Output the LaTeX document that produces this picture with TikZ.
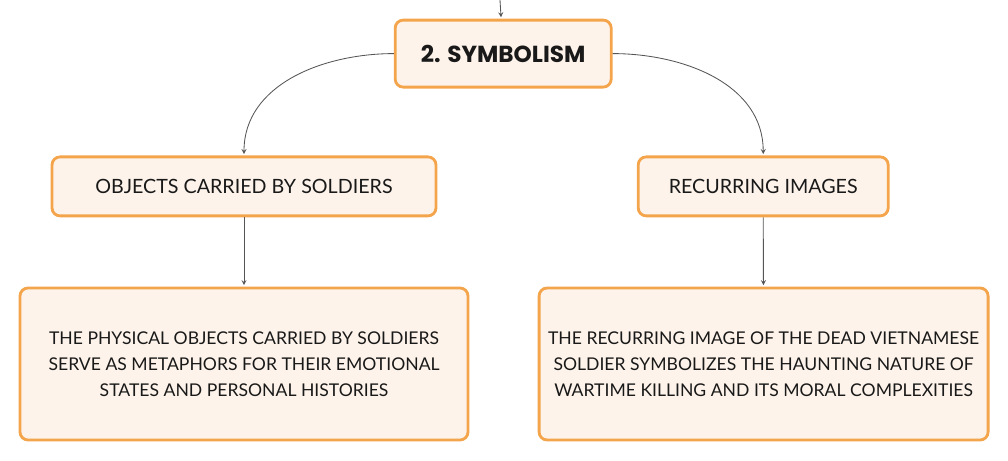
\documentclass[tikz,border=0pt]{standalone}
\usepackage{fontspec}
\setmainfont{Lato}
\newfontfamily\titlefont{Poppins}
\usetikzlibrary{positioning}
\definecolor{boxorange}{HTML}{F4A54C}
\definecolor{boxfill}{HTML}{FDF3EA}
\definecolor{linegray}{HTML}{555555}

\begin{document}
\begin{tikzpicture}[shorten >=1pt,->,>=stealth]
  \tikzstyle{box}=[rectangle, rounded corners=0.2cm, draw=boxorange, fill=boxfill,
line width=2pt, text=black!90, align=center, inner sep=0pt]
  \tikzstyle{link}=[draw=linegray, line width=0.6pt]
  \useasboundingbox (0,0) rectangle (25.2,-11.525);
  \node[box, minimum width=5.4cm, minimum height=1.675cm, font=\titlefont\bfseries\fontsize{16.5}{18}\selectfont] (S_0) at (12.58,-1.34) {2. SYMBOLISM};
  \node[box, minimum width=9.6cm, minimum height=1.475cm, font=\fontsize{14}{16}\selectfont] (S_1) at (6.1,-4.66) {OBJECTS CARRIED BY SOLDIERS};
  \node[box, minimum width=6.25cm, minimum height=1.475cm, font=\fontsize{14}{16}\selectfont] (S_2) at (19.08,-4.66) {RECURRING IMAGES};
  \node[box, minimum width=11.2cm, minimum height=3.8cm, font=\fontsize{12.5}{18.5}\selectfont] (D_1) at (6.1,-9.1) {THE PHYSICAL OBJECTS CARRIED BY SOLDIERS\\SERVE AS METAPHORS FOR THEIR EMOTIONAL\\STATES AND PERSONAL HISTORIES};
  \node[box, minimum width=11.225cm, minimum height=3.8cm, font=\fontsize{12.5}{18.5}\selectfont] (D_2) at (19.09,-9.1) {THE RECURRING IMAGE OF THE DEAD VIETNAMESE\\SOLDIER SYMBOLIZES THE HAUNTING NATURE OF\\WARTIME KILLING AND ITS MORAL COMPLEXITIES};
  \coordinate (in) at (12.5,0);

  \draw[link] (in) -- (S_0);
  \draw[link] (S_0.west) to[out=180,in=90] (S_1.north);
  \draw[link] (S_0.east) to[out=0,in=90] (S_2.north);
  \draw[link] (S_1) -- (D_1);
  \draw[link] (S_2) -- (D_2);
\end{tikzpicture}
\end{document}
